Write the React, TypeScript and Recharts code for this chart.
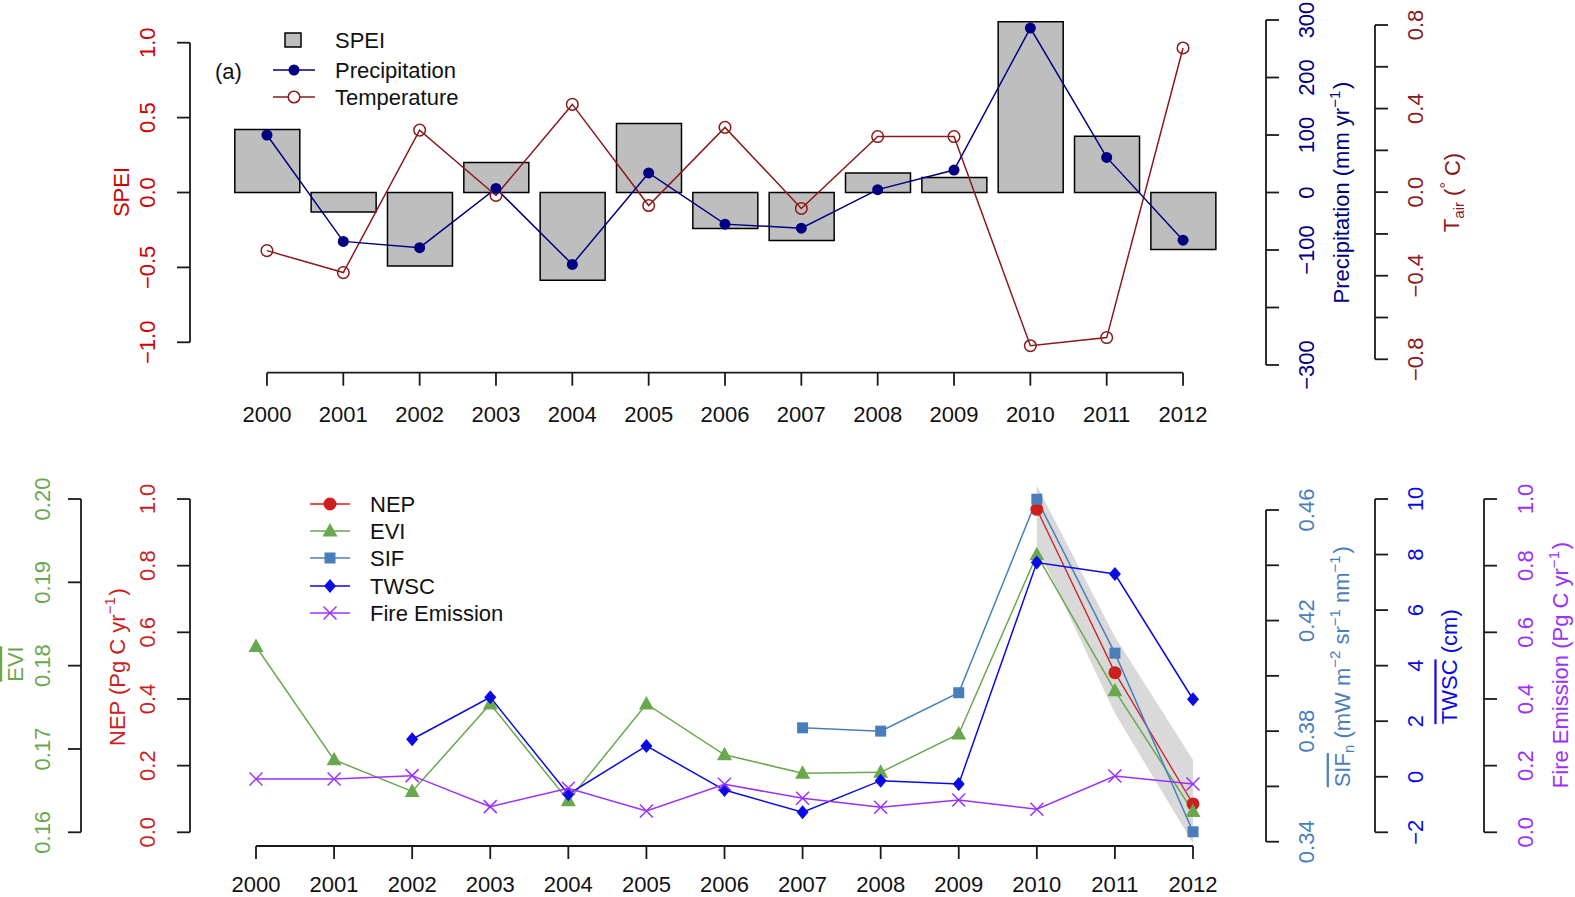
import React from 'react';
import { ComposedChart, Bar, Line, Area, XAxis, YAxis, Legend } from 'recharts';

const years = ['2000', '2001', '2002', '2003', '2004', '2005', '2006', '2007', '2008', '2009', '2010', '2011', '2012'];

// panel (a): drought indicators
const speiValues = [0.42, -0.13, -0.49, 0.2, -0.585, 0.46, -0.24, -0.32, 0.13, 0.1, 1.14, 0.375, -0.38];
const precipValues = [100, -85, -96, 7, -125, 34, -55, -62, 5, 39, 286, 61, -83];
const tairValues = [-0.28, -0.385, 0.297, -0.016, 0.42, -0.064, 0.31, -0.078, 0.266, 0.266, -0.735, -0.696, 0.69];

// panel (b): carbon / vegetation responses
const nepValues = [null, null, null, null, null, null, null, null, null, null, 0.969, 0.479, 0.085];
const nepLow = [null, null, null, null, null, null, null, null, null, null, 0.857, 0.357, -0.033];
const nepHigh = [null, null, null, null, null, null, null, null, null, null, 1.04, 0.587, 0.217];
const eviValues = [0.1823, 0.1687, 0.1649, 0.1754, 0.1638, 0.1754, 0.1693, 0.1671, 0.1672, 0.1718, 0.1933, 0.177, 0.1625];
const sifValues = [null, null, null, null, null, null, null, 0.3812, 0.38, 0.3939, 0.4639, 0.4082, 0.3436];
const twscValues = [null, null, 1.35, 2.86, -0.63, 1.11, -0.48, -1.28, -0.14, -0.26, 7.71, 7.3, 2.79];
const fireValues = [0.16, 0.16, 0.17, 0.077, 0.132, 0.064, 0.144, 0.102, 0.075, 0.097, 0.069, 0.169, 0.145];

// axis ticks
const speiTicks = [-1, -0.5, 0, 0.5, 1];
const precipTicks = [-300, -200, -100, 0, 100, 200, 300];
const precipLabels = [-300, -100, 0, 100, 200, 300];
const tairTicks = [-0.8, -0.6, -0.4, -0.2, 0, 0.2, 0.4, 0.6, 0.8];
const tairLabels = [-0.8, -0.4, 0, 0.4, 0.8];
const eviTicks = [0.16, 0.17, 0.18, 0.19, 0.2];
const nepTicks = [0, 0.2, 0.4, 0.6, 0.8, 1];
const sifTicks = [0.34, 0.36, 0.38, 0.4, 0.42, 0.44, 0.46];
const sifLabels = [0.34, 0.38, 0.42, 0.46];
const twscTicks = [-2, 0, 2, 4, 6, 8, 10];
const fireTicks = [0, 0.2, 0.4, 0.6, 0.8, 1];

const topData = years.map((year, i) => ({
  year,
  spei: speiValues[i],
  precip: precipValues[i],
  tair: tairValues[i],
}));

const bottomData = years.map((year, i) => ({
  year,
  nep: nepValues[i],
  band: nepLow[i] == null ? null : [nepLow[i], nepHigh[i]],
  evi: eviValues[i],
  sif: sifValues[i],
  twsc: twscValues[i],
  fire: fireValues[i],
}));

const FONT = '"Liberation Sans", Arial, Helvetica, sans-serif';
const FS = 22;
const AX = '#1a1a1a';
const RED = '#d00000';
const NAVY = '#000080';
const DARKRED = '#8b1a1a';
const NEP_C = '#cc1f1f';
const EVI_C = '#6aa84f';
const SIF_C = '#4a7ebb';
const TWSC_C = '#0a0ae6';
const FIRE_C = '#9b30ff';

// layout (chart-local pixels)
const W = 1575;
const TOP_H = 440;
const BOT_H = 457;
const T_LEFT = 228.8;
const T_RIGHT = 1221.2;
const T_TOP = 20;
const T_BOTTOM = 372.7;
const B_LEFT = 216.96;
const B_RIGHT = 1232.04;
const B_TOP = 40;
const B_BOTTOM = 406;

// domain that puts vHigh at yHigh and vLow at yLow inside the plot box
function axisScale(vHigh: number, yHigh: number, vLow: number, yLow: number, top: number, bottom: number) {
  const ppu = (yLow - yHigh) / (vHigh - vLow);
  return { ppu, domain: [vLow - (bottom - yLow) / ppu, vHigh + (yHigh - top) / ppu] as [number, number] };
}

const speiS = axisScale(1, 42.7, -1, 342.3, T_TOP, T_BOTTOM);
const precipS = axisScale(300, 20, -300, 365, T_TOP, T_BOTTOM);
const tairS = axisScale(0.8, 25, -0.8, 359.3, T_TOP, T_BOTTOM);
const nepS = axisScale(1, 59, 0, 392.3, B_TOP, B_BOTTOM);
const eviS = axisScale(0.2, 59, 0.16, 392.3, B_TOP, B_BOTTOM);
const sifS = axisScale(0.46, 70, 0.34, 401.7, B_TOP, B_BOTTOM);
const twscS = axisScale(10, 59, -2, 392.3, B_TOP, B_BOTTOM);
const fireS = axisScale(1, 59, 0, 392.3, B_TOP, B_BOTTOM);

const near = (a: number, b: number) => Math.abs(a - b) < 1e-9;
const fmt = (v: number, d: number) => (v < -1e-9 ? '\u2212' : '') + Math.abs(v).toFixed(d);

function rotText(x: number, y: number, color: string, children: React.ReactNode) {
  return (
    <text
      x={x}
      y={y}
      transform={`rotate(-90 ${x} ${y})`}
      textAnchor="middle"
      dominantBaseline="central"
      fill={color}
      fontSize={FS}
      fontFamily={FONT}
    >
      {children}
    </text>
  );
}

type AxisSpec = {
  side: 'left' | 'right';
  axisX: number;
  labelX: number;
  color: string;
  ticks: number[];
  labels: number[];
  digits: number;
  ppu: number;
  title: React.ReactNode;
};

// R-style offset axis: line only spans the tick range, labels parallel to axis
function yTick(spec: AxisSpec) {
  const span = (spec.ticks[spec.ticks.length - 1] - spec.ticks[0]) * spec.ppu;
  const dir = spec.side === 'left' ? -1 : 1;
  return (props: any) => {
    const { y, payload } = props;
    const v = Number(payload.value);
    const first = near(v, spec.ticks[0]);
    return (
      <g>
        {first && <line x1={spec.axisX} x2={spec.axisX} y1={y} y2={y - span} stroke={AX} strokeWidth={1.8} />}
        {first && spec.title}
        <line x1={spec.axisX} x2={spec.axisX + dir * 13} y1={y} y2={y} stroke={AX} strokeWidth={1.8} />
        {spec.labels.some((l) => near(l, v)) && rotText(spec.labelX, y, spec.color, fmt(v, spec.digits))}
      </g>
    );
  };
}

function xTick(step: number, labelDy: number) {
  return (props: any) => {
    const { x, y, payload } = props;
    const first = payload.value === years[0];
    return (
      <g>
        {first && (
          <line x1={x} x2={x + step * (years.length - 1)} y1={y} y2={y} stroke={AX} strokeWidth={1.8} />
        )}
        <line x1={x} x2={x} y1={y} y2={y + 13} stroke={AX} strokeWidth={1.8} />
        <text
          x={x}
          y={y + labelDy}
          textAnchor="middle"
          dominantBaseline="central"
          fontSize={FS}
          fill="#111"
          fontFamily={FONT}
        >
          {payload.value}
        </text>
      </g>
    );
  };
}

// marker shapes (shared by plot dots and legend keys)
const circleMark = (cx: number, cy: number, color: string, r: number, open = false) => (
  <circle cx={cx} cy={cy} r={r} fill={open ? 'none' : color} stroke={color} strokeWidth={open ? 1.5 : 0} />
);
const triMark = (cx: number, cy: number, color: string) => (
  <polygon points={`${cx},${cy - 8} ${cx - 7.5},${cy + 5.5} ${cx + 7.5},${cy + 5.5}`} fill={color} />
);
const squareMark = (cx: number, cy: number, color: string) => (
  <rect x={cx - 5.5} y={cy - 5.5} width={11} height={11} fill={color} />
);
const diamondMark = (cx: number, cy: number, color: string) => (
  <polygon points={`${cx},${cy - 7} ${cx + 6},${cy} ${cx},${cy + 7} ${cx - 6},${cy}`} fill={color} />
);
const crossMark = (cx: number, cy: number, color: string) => (
  <g stroke={color} strokeWidth={1.5}>
    <line x1={cx - 6.5} y1={cy - 6.5} x2={cx + 6.5} y2={cy + 6.5} />
    <line x1={cx - 6.5} y1={cy + 6.5} x2={cx + 6.5} y2={cy - 6.5} />
  </g>
);

function dotRenderer(draw: (cx: number, cy: number) => React.ReactNode) {
  return (p: any) => {
    const key = `dot-${p.dataKey}-${p.index}`;
    if (p.cx == null || p.cy == null || p.value == null) return <g key={key} />;
    return <g key={key}>{draw(p.cx, p.cy)}</g>;
  };
}

const legendText = (x: number, y: number, s: string) => (
  <text x={x} y={y} dominantBaseline="central" fontSize={FS} fill="#111" fontFamily={FONT}>
    {s}
  </text>
);

const topLegend = () => (
  <svg width={700} height={130} style={{ display: 'block' }}>
    {legendText(215, 71, '(a)')}
    <rect x={285} y={33} width={16} height={14} fill="#bebebe" stroke="#000" strokeWidth={1.5} />
    {legendText(335, 40, 'SPEI')}
    <line x1={273} x2={315} y1={70} y2={70} stroke={NAVY} strokeWidth={1.5} />
    {circleMark(294, 70, NAVY, 5.5)}
    {legendText(335, 70, 'Precipitation')}
    <line x1={273} x2={315} y1={97} y2={97} stroke={DARKRED} strokeWidth={1.5} />
    <circle cx={294} cy={97} r={5.8} fill="#fff" stroke={DARKRED} strokeWidth={1.5} />
    {legendText(335, 97, 'Temperature')}
  </svg>
);

const bottomItems: [string, string, (cx: number, cy: number, c: string) => React.ReactNode][] = [
  ['NEP', NEP_C, (cx, cy, c) => circleMark(cx, cy, c, 6.5)],
  ['EVI', EVI_C, triMark],
  ['SIF', SIF_C, squareMark],
  ['TWSC', TWSC_C, diamondMark],
  ['Fire Emission', FIRE_C, crossMark],
];
const bottomRows = [64, 91, 118, 146, 173];

const bottomLegend = () => (
  <svg width={700} height={200} style={{ display: 'block' }}>
    {bottomItems.map(([name, color, mark], i) => (
      <g key={name}>
        <line x1={310} x2={350} y1={bottomRows[i]} y2={bottomRows[i]} stroke={color} strokeWidth={1.5} />
        {mark(330, bottomRows[i], color)}
        {legendText(370, bottomRows[i], name)}
      </g>
    ))}
  </svg>
);

// superscript run, followed by text back on the baseline
const sup = (s: string, after = '\u200a') => (
  <>
    <tspan dy={-8} fontSize={15}>
      {s}
    </tspan>
    <tspan dy={8}>{after}</tspan>
  </>
);

export default function App() {
  const topStep = (T_RIGHT - T_LEFT) / years.length;
  const botStep = (B_RIGHT - B_LEFT) / years.length;

  const speiAxis = yTick({
    side: 'left', axisX: 190, labelX: 147.5, color: RED, ticks: speiTicks, labels: speiTicks, digits: 1,
    ppu: speiS.ppu, title: rotText(121.6, 192, RED, 'SPEI'),
  });
  const precipAxis = yTick({
    side: 'right', axisX: 1266, labelX: 1306.6, color: NAVY, ticks: precipTicks, labels: precipLabels, digits: 0,
    ppu: precipS.ppu,
    title: rotText(1341.7, 192.5, NAVY, <>Precipitation (mm yr{sup('\u22121')})</>),
  });
  const tairAxis = yTick({
    side: 'right', axisX: 1375, labelX: 1415.4, color: DARKRED, ticks: tairTicks, labels: tairLabels, digits: 1,
    ppu: tairS.ppu,
    title: rotText(
      1451.7, 192.5, DARKRED,
      <>T<tspan dy={6} fontSize={15}>air</tspan><tspan dy={-6}> (</tspan><tspan dy={-6} fontSize={16}>°</tspan><tspan dy={6}> C)</tspan></>
    ),
  });

  const eviAxis = yTick({
    side: 'left', axisX: 81, labelX: 42.4, color: EVI_C, ticks: eviTicks, labels: eviTicks, digits: 2,
    ppu: eviS.ppu, title: rotText(15, 224, EVI_C, <tspan textDecoration="overline">EVI</tspan>),
  });
  const nepAxis = yTick({
    side: 'left', axisX: 190, labelX: 147.8, color: NEP_C, ticks: nepTicks, labels: nepTicks, digits: 1,
    ppu: nepS.ppu, title: rotText(117, 227, NEP_C, <>NEP (Pg C yr{sup('\u22121')})</>),
  });
  const sifAxis = yTick({
    side: 'right', axisX: 1266, labelX: 1306.6, color: SIF_C, ticks: sifTicks, labels: sifLabels, digits: 2,
    ppu: sifS.ppu,
    title: rotText(
      1341.7, 226.7, SIF_C,
      <>
        <tspan textDecoration="overline">SIF</tspan>
        <tspan dy={6} fontSize={15}>n</tspan>
        <tspan dy={-6}> (mW m</tspan>
        {sup('\u22122', ' ')}sr{sup('\u22121', ' ')}nm{sup('\u22121')})
      </>
    ),
  });
  const twscAxis = yTick({
    side: 'right', axisX: 1375, labelX: 1415.4, color: TWSC_C, ticks: twscTicks, labels: twscTicks, digits: 0,
    ppu: twscS.ppu,
    title: rotText(1449.4, 226.7, TWSC_C, <><tspan textDecoration="overline">TWSC</tspan> (cm)</>),
  });
  const fireAxis = yTick({
    side: 'right', axisX: 1484, labelX: 1525.9, color: FIRE_C, ticks: fireTicks, labels: fireTicks, digits: 1,
    ppu: fireS.ppu, title: rotText(1560.5, 225, FIRE_C, <>Fire Emission (Pg C yr{sup('\u22121')})</>),
  });

  const yCommon = {
    axisLine: false,
    tickLine: false,
    tickSize: 0,
    tickMargin: 0,
    interval: 0 as const,
    allowDataOverflow: true,
    type: 'number' as const,
  };

  return (
    <div style={{ position: 'absolute', left: 0, top: 0, width: W, height: TOP_H + BOT_H, background: '#fff', fontFamily: FONT }}>
      <div style={{ position: 'absolute', left: 0, top: 0 }}>
        <ComposedChart width={W} height={TOP_H} data={topData} margin={{ top: T_TOP, right: 0, bottom: 0, left: 0 }}>
          <XAxis
            dataKey="year"
            scale="band"
            height={TOP_H - T_BOTTOM}
            axisLine={false}
            tickLine={false}
            tickSize={0}
            tickMargin={0}
            interval={0}
            tick={xTick(topStep, 41.3)}
          />
          <YAxis yAxisId="spei" orientation="left" width={T_LEFT} domain={speiS.domain} ticks={speiTicks} tick={speiAxis} {...yCommon} />
          <YAxis yAxisId="precip" orientation="right" width={100} domain={precipS.domain} ticks={precipTicks} tick={precipAxis} {...yCommon} />
          <YAxis yAxisId="tair" orientation="right" width={W - T_RIGHT - 100} domain={tairS.domain} ticks={tairTicks} tick={tairAxis} {...yCommon} />
          <Bar yAxisId="spei" dataKey="spei" name="SPEI" fill="#bebebe" stroke="#000" strokeWidth={1.5} barSize={65} isAnimationActive={false} />
          <Line
            yAxisId="tair"
            dataKey="tair"
            name="Temperature"
            type="linear"
            stroke={DARKRED}
            strokeWidth={1.5}
            dot={dotRenderer((cx, cy) => circleMark(cx, cy, DARKRED, 5.8, true))}
            activeDot={false}
            isAnimationActive={false}
          />
          <Line
            yAxisId="precip"
            dataKey="precip"
            name="Precipitation"
            type="linear"
            stroke={NAVY}
            strokeWidth={1.5}
            dot={dotRenderer((cx, cy) => circleMark(cx, cy, NAVY, 5.5))}
            activeDot={false}
            isAnimationActive={false}
          />
          <Legend
            layout="vertical"
            verticalAlign="middle"
            align="center"
            wrapperStyle={{ left: 0, top: 0, width: 700, height: 130 }}
            content={topLegend}
          />
        </ComposedChart>
      </div>

      <div style={{ position: 'absolute', left: 0, top: TOP_H }}>
        <ComposedChart width={W} height={BOT_H} data={bottomData} margin={{ top: B_TOP, right: 0, bottom: 0, left: 0 }}>
          <XAxis
            dataKey="year"
            scale="band"
            height={BOT_H - B_BOTTOM}
            axisLine={false}
            tickLine={false}
            tickSize={0}
            tickMargin={0}
            interval={0}
            tick={xTick(botStep, 38)}
          />
          <YAxis yAxisId="nep" orientation="left" width={100} domain={nepS.domain} ticks={nepTicks} tick={nepAxis} {...yCommon} />
          <YAxis yAxisId="evi" orientation="left" width={B_LEFT - 100} domain={eviS.domain} ticks={eviTicks} tick={eviAxis} {...yCommon} />
          <YAxis yAxisId="sif" orientation="right" width={100} domain={sifS.domain} ticks={sifTicks} tick={sifAxis} {...yCommon} />
          <YAxis yAxisId="twsc" orientation="right" width={100} domain={twscS.domain} ticks={twscTicks} tick={twscAxis} {...yCommon} />
          <YAxis yAxisId="fire" orientation="right" width={W - B_RIGHT - 200} domain={fireS.domain} ticks={fireTicks} tick={fireAxis} {...yCommon} />
          <Line
            yAxisId="nep"
            dataKey="nep"
            name="NEP"
            type="linear"
            stroke={NEP_C}
            strokeWidth={1.3}
            dot={dotRenderer((cx, cy) => circleMark(cx, cy, NEP_C, 6.5))}
            activeDot={false}
            isAnimationActive={false}
          />
          <Area
            yAxisId="nep"
            dataKey="band"
            type="linear"
            fill="#b3b3b3"
            fillOpacity={0.5}
            stroke="none"
            activeDot={false}
            isAnimationActive={false}
          />
          <Line
            yAxisId="evi"
            dataKey="evi"
            name="EVI"
            type="linear"
            stroke={EVI_C}
            strokeWidth={1.5}
            dot={dotRenderer((cx, cy) => triMark(cx, cy, EVI_C))}
            activeDot={false}
            isAnimationActive={false}
          />
          <Line
            yAxisId="sif"
            dataKey="sif"
            name="SIF"
            type="linear"
            stroke={SIF_C}
            strokeWidth={1.5}
            dot={dotRenderer((cx, cy) => squareMark(cx, cy, SIF_C))}
            activeDot={false}
            isAnimationActive={false}
          />
          <Line
            yAxisId="twsc"
            dataKey="twsc"
            name="TWSC"
            type="linear"
            stroke={TWSC_C}
            strokeWidth={1.5}
            dot={dotRenderer((cx, cy) => diamondMark(cx, cy, TWSC_C))}
            activeDot={false}
            isAnimationActive={false}
          />
          <Line
            yAxisId="fire"
            dataKey="fire"
            name="Fire Emission"
            type="linear"
            stroke={FIRE_C}
            strokeWidth={1.5}
            dot={dotRenderer((cx, cy) => crossMark(cx, cy, FIRE_C))}
            activeDot={false}
            isAnimationActive={false}
          />
          <Legend
            layout="vertical"
            verticalAlign="middle"
            align="center"
            wrapperStyle={{ left: 0, top: 0, width: 700, height: 200 }}
            content={bottomLegend}
          />
        </ComposedChart>
      </div>
    </div>
  );
}
